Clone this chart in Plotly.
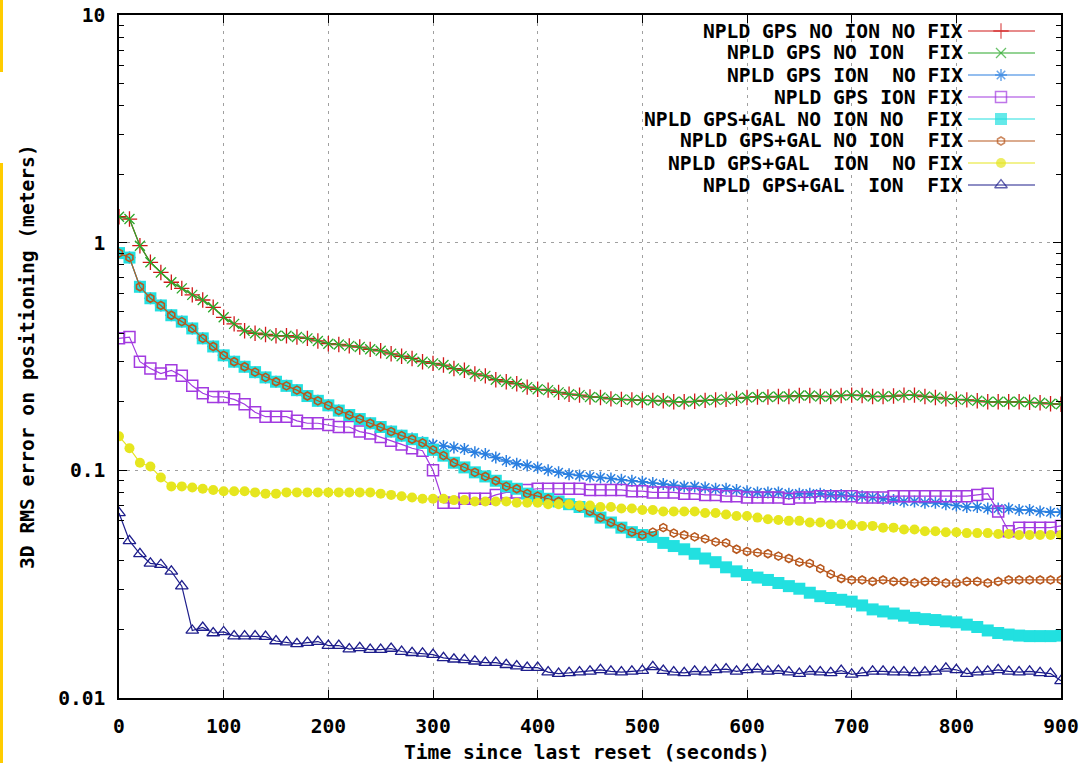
import plotly.graph_objects as go

# ---------------- data ----------------
time_s = list(range(0, 901, 10))

gps_noion_nofix = [1.30, 1.27, 0.97, 0.82, 0.74, 0.67, 0.63, 0.59, 0.56, 0.52,
                   0.47, 0.44, 0.41, 0.40, 0.395, 0.39, 0.39, 0.385, 0.38, 0.37,
                   0.36, 0.357, 0.352, 0.348, 0.34, 0.335, 0.325, 0.317, 0.31, 0.30,
                   0.295, 0.29, 0.28, 0.275, 0.265, 0.26, 0.25, 0.245, 0.24, 0.232,
                   0.227, 0.225, 0.22, 0.216, 0.214, 0.21, 0.209, 0.206, 0.205, 0.204,
                   0.203, 0.203, 0.202, 0.200, 0.200, 0.201, 0.203, 0.204, 0.205, 0.207,
                   0.209, 0.210, 0.210, 0.211, 0.211, 0.213, 0.213, 0.211, 0.211, 0.213,
                   0.214, 0.213, 0.211, 0.211, 0.212, 0.214, 0.214, 0.211, 0.209, 0.206,
                   0.205, 0.204, 0.202, 0.200, 0.200, 0.200, 0.200, 0.199, 0.198, 0.196,
                   0.195]
gps_noion_fix = list(gps_noion_nofix)

galgps_shared = [0.90, 0.86, 0.64, 0.57, 0.53, 0.48, 0.45, 0.42, 0.38, 0.35,
                 0.32, 0.30, 0.285, 0.27, 0.256, 0.245, 0.235, 0.225, 0.212, 0.202,
                 0.193, 0.183, 0.175, 0.168, 0.161, 0.155, 0.148, 0.142, 0.137, 0.132,
                 0.123, 0.116, 0.108, 0.103, 0.098, 0.094, 0.090, 0.085, 0.083, 0.079,
                 0.077, 0.075, 0.073, 0.071, 0.069, 0.066, 0.062, 0.059, 0.056, 0.0535,
                 0.052]

galgps_noion_nofix = galgps_shared + [
    0.051, 0.048, 0.0465, 0.045, 0.043, 0.041, 0.0395, 0.0375, 0.036, 0.0347,
    0.0338, 0.033, 0.032, 0.031, 0.0302, 0.029, 0.028, 0.0275, 0.027, 0.0265,
    0.0255, 0.0245, 0.024, 0.0235, 0.023, 0.0225, 0.0222, 0.022, 0.0217, 0.0215,
    0.021, 0.0205, 0.0198, 0.0193, 0.019, 0.0188, 0.0187, 0.0187, 0.0187, 0.0188]

galgps_noion_fix = galgps_shared + [
    0.0535, 0.056, 0.053, 0.052, 0.051, 0.050, 0.0485, 0.048, 0.045, 0.044,
    0.0435, 0.043, 0.042, 0.041, 0.0395, 0.039, 0.037, 0.035, 0.0335, 0.033,
    0.033, 0.0325, 0.033, 0.0325, 0.0325, 0.032, 0.0325, 0.0325, 0.032, 0.032,
    0.0325, 0.0325, 0.032, 0.0325, 0.033, 0.033, 0.033, 0.033, 0.033, 0.033]

gps_ion_nofix = galgps_shared[:28] + [
    0.138, 0.133, 0.130, 0.128, 0.126, 0.124, 0.120, 0.118, 0.114, 0.110,
    0.107, 0.105, 0.103, 0.100, 0.098, 0.096, 0.095, 0.094, 0.093, 0.092,
    0.091, 0.090, 0.089, 0.088, 0.087, 0.086, 0.085, 0.085, 0.084, 0.083,
    0.083, 0.082, 0.081, 0.080, 0.080, 0.080, 0.079, 0.079, 0.079, 0.079,
    0.078, 0.078, 0.077, 0.077, 0.076, 0.075, 0.074, 0.073, 0.073, 0.072,
    0.072, 0.071, 0.070, 0.069, 0.069, 0.068, 0.068, 0.068, 0.067, 0.067,
    0.066, 0.0655, 0.0655]

gps_ion_fix = [0.38, 0.385, 0.30, 0.28, 0.266, 0.275, 0.26, 0.235, 0.218, 0.21,
               0.21, 0.205, 0.195, 0.18, 0.172, 0.172, 0.172, 0.165, 0.161, 0.161,
               0.158, 0.155, 0.155, 0.148, 0.145, 0.14, 0.135, 0.13, 0.125, 0.122,
               0.10, 0.072, 0.072, 0.075, 0.075, 0.075, 0.078, 0.080, 0.080, 0.082,
               0.083, 0.083, 0.083, 0.083, 0.083, 0.082, 0.082, 0.082, 0.082, 0.081,
               0.081, 0.080, 0.080, 0.080, 0.079, 0.079, 0.078, 0.078, 0.077, 0.077,
               0.076, 0.076, 0.076, 0.076, 0.075, 0.076, 0.076, 0.077, 0.077, 0.077,
               0.077, 0.076, 0.076, 0.076, 0.077, 0.077, 0.077, 0.077, 0.077, 0.077,
               0.077, 0.077, 0.078, 0.079, 0.066, 0.054, 0.056, 0.056, 0.056, 0.056,
               0.057]

galgps_ion_nofix = [0.141, 0.125, 0.108, 0.104, 0.093, 0.085, 0.085, 0.084, 0.083, 0.082,
                    0.081, 0.081, 0.081, 0.080, 0.079, 0.079, 0.080, 0.080, 0.080, 0.080,
                    0.080, 0.080, 0.080, 0.080, 0.080, 0.079, 0.078, 0.077, 0.076, 0.075,
                    0.075, 0.075, 0.074, 0.074, 0.073, 0.073, 0.073, 0.073, 0.072, 0.072,
                    0.072, 0.071, 0.071, 0.071, 0.070, 0.070, 0.069, 0.069, 0.068, 0.068,
                    0.067, 0.067, 0.066, 0.066, 0.066, 0.066, 0.065, 0.065, 0.064, 0.063,
                    0.063, 0.062, 0.061, 0.0605, 0.060, 0.060, 0.059, 0.059, 0.058, 0.058,
                    0.0575, 0.057, 0.057, 0.056, 0.056, 0.055, 0.055, 0.054, 0.054, 0.0535,
                    0.0535, 0.053, 0.053, 0.053, 0.0525, 0.0525, 0.052, 0.052, 0.052, 0.052,
                    0.052]

galgps_ion_fix = [0.065, 0.049, 0.043, 0.039, 0.0385, 0.036, 0.031, 0.0198, 0.0204, 0.0193,
                  0.0195, 0.0187, 0.0187, 0.0187, 0.0186, 0.0178, 0.0176, 0.0173, 0.0175, 0.0177,
                  0.0170, 0.0170, 0.0164, 0.0166, 0.0163, 0.0163, 0.0165, 0.0160, 0.0158, 0.0157,
                  0.0155, 0.0150, 0.0148, 0.0147, 0.0145, 0.0143, 0.0143, 0.0140, 0.0138, 0.0136,
                  0.0136, 0.0130, 0.0128, 0.0129, 0.0130, 0.0131, 0.0133, 0.0131, 0.0130, 0.0131,
                  0.0132, 0.0137, 0.0132, 0.0130, 0.0129, 0.0131, 0.0130, 0.0133, 0.0134, 0.0131,
                  0.0133, 0.0134, 0.0131, 0.0132, 0.0130, 0.0128, 0.0131, 0.0130, 0.0129, 0.0132,
                  0.0127, 0.0129, 0.0131, 0.0131, 0.0130, 0.0130, 0.0129, 0.0130, 0.0131, 0.0135,
                  0.0133, 0.0128, 0.0130, 0.0131, 0.0133, 0.0131, 0.0130, 0.0131, 0.0129, 0.0128,
                  0.0119]

series_names = ["NPLD GPS NO ION NO FIX", "NPLD GPS NO ION  FIX", "NPLD GPS ION  NO FIX",
                "NPLD GPS ION FIX", "NPLD GPS+GAL NO ION NO  FIX", "NPLD GPS+GAL NO ION  FIX",
                "NPLD GPS+GAL  ION  NO FIX", "NPLD GPS+GAL  ION  FIX"]
series_values = [gps_noion_nofix, gps_noion_fix, gps_ion_nofix, gps_ion_fix,
                 galgps_noion_nofix, galgps_noion_fix, galgps_ion_nofix, galgps_ion_fix]

x_ticks = [0, 100, 200, 300, 400, 500, 600, 700, 800, 900]
y_ticks = [0.01, 0.1, 1, 10]
y_tick_labels = ["0.01", "0.1", "1", "10"]

# ---------------- style ----------------
colors = ["#d01818", "#2aa82a", "#2a7fe0", "#a23ae0", "#22e0e0", "#b8581e", "#e6e61e", "#1e1e8c"]
symbols = ["cross-thin-open", "x-thin-open", "asterisk-open", "square-open",
           "square", "hexagon-open", "circle", "triangle-up-open"]
msizes = [11, 10, 10, 11, 12, 8, 10, 11]
mline = [1.3, 1.3, 1.5, 1.5, 0, 1.6, 0, 1.3]

FONT = "DejaVu Sans Mono"
FS = 19.6

fig = go.Figure()
for name, vals, c, s, ms, ml in zip(series_names, series_values, colors, symbols, msizes, mline):
    fig.add_trace(go.Scatter(
        x=time_s, y=vals, mode="lines+markers", name=name, showlegend=False,
        line=dict(color=c, width=1.2),
        marker=dict(symbol=s, size=ms, color=c, line=dict(color=c, width=ml)),
    ))

# custom gnuplot-like legend (text right, sample on the right)
L, R_, T, B = 119, 18, 15, 65
W, H = 1079 - L - R_, 763 - T - B
def px_x(px):
    return (px - L) / W
def px_y(py):
    return 1 - (py - T) / H

row_y = [31, 53, 75, 97, 119, 141, 163, 185]
for name, c, s, ms, ml, ry in zip(series_names, colors, symbols, msizes, mline, row_y):
    yy = px_y(ry)
    fig.add_annotation(x=px_x(965), y=yy, xref="paper", yref="paper",
                       text="<b>" + name.replace(" ", "\u00a0") + "</b>",
                       showarrow=False, xanchor="right", yanchor="middle",
                       font=dict(family=FONT, size=FS, color="black"))
    fig.add_trace(go.Scatter(
        x=[px_x(968), px_x(1001), px_x(1035)], y=[yy, yy, yy],
        xaxis="x2", yaxis="y2", mode="lines+markers", showlegend=False, hoverinfo="skip",
        line=dict(color=c, width=1.2),
        marker=dict(symbol=s, size=[0, ms, 0], color=c, line=dict(color=c, width=ml)),
    ))

axis_common = dict(
    showline=True, linecolor="black", linewidth=1.5, mirror="allticks",
    ticks="inside", ticklen=8, tickcolor="black", tickwidth=1.2,
    showgrid=True, gridcolor="#a0a0a0", gridwidth=1, griddash="3px,5px",
    zeroline=False, automargin=False,
    tickfont=dict(family=FONT, size=FS, color="black", weight="bold"),
)

fig.update_layout(
    width=1079, height=763,
    margin=dict(l=L, r=R_, t=T, b=B, autoexpand=False),
    paper_bgcolor="white", plot_bgcolor="white",
    xaxis=dict(range=[0, 900], tickvals=x_ticks, ticklabelstandoff=10, **axis_common),
    yaxis=dict(type="log", range=[-2, 1], tickvals=y_ticks, ticktext=y_tick_labels,
               ticklabelstandoff=8,
               minor=dict(ticks="inside", ticklen=5, tickcolor="black", showgrid=False,
                          tickvals=[2e-2, 3e-2, 4e-2, 5e-2, 6e-2, 7e-2, 8e-2, 9e-2,
                                    0.2, 0.3, 0.4, 0.5, 0.6, 0.7, 0.8, 0.9,
                                    2, 3, 4, 5, 6, 7, 8, 9]),
               **axis_common),
    xaxis2=dict(overlaying="x", range=[0, 1], visible=False),
    yaxis2=dict(overlaying="y", range=[0, 1], visible=False),
    showlegend=False,
)

# axis titles
fig.add_annotation(x=px_x(587), y=px_y(752), xref="paper", yref="paper",
                   text="<b>Time since last reset (seconds)</b>", showarrow=False,
                   xanchor="center", yanchor="middle",
                   font=dict(family=FONT, size=FS, color="black"))
fig.add_annotation(x=px_x(27), y=px_y(357), xref="paper", yref="paper",
                   text="<b>3D RMS error on positioning (meters)</b>", showarrow=False,
                   textangle=-90, xanchor="center", yanchor="middle",
                   font=dict(family=FONT, size=FS, color="black"))

# yellow edge strips on the left of the image
for y0, y1 in [(0, 72), (163, 763)]:
    fig.add_shape(type="rect", xref="paper", yref="paper",
                  x0=px_x(0), x1=px_x(3), y0=px_y(y1), y1=px_y(y0),
                  fillcolor="#ffcc00", line=dict(width=0), layer="above")

fig.write_html("out.html")
